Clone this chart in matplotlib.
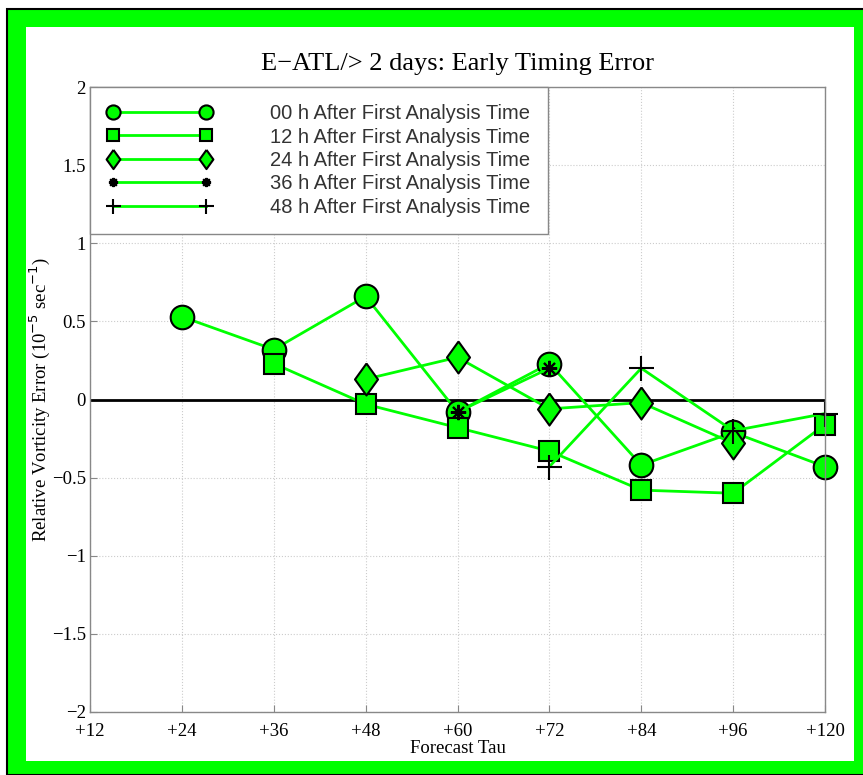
import matplotlib
matplotlib.use("Agg")
from matplotlib import pyplot as plt
from matplotlib.patches import Rectangle

# forecast taus (plotted at equal spacing, like the original)
tau_labels = ["+12", "+24", "+36", "+48", "+60", "+72", "+84", "+96", "+120"]

# series: index into tau_labels, relative vorticity error
x_00 = [1, 2, 3, 4, 5, 6, 7, 8]
y_00 = [0.53, 0.32, 0.66, -0.08, 0.23, -0.42, -0.21, -0.43]
x_12 = [2, 3, 4, 5, 6, 7, 8]
y_12 = [0.23, -0.03, -0.18, -0.33, -0.58, -0.60, -0.16]
x_24 = [3, 4, 5, 6, 7]
y_24 = [0.13, 0.27, -0.06, -0.02, -0.28]
x_36 = [4, 5]
y_36 = [-0.08, 0.20]
x_48 = [5, 6, 7, 8]
y_48 = [-0.43, 0.20, -0.20, -0.09]

labels = [
    "00 h After First Analysis Time",
    "12 h After First Analysis Time",
    "24 h After First Analysis Time",
    "36 h After First Analysis Time",
    "48 h After First Analysis Time",
]

green = "#00ff00"
serif = ["Liberation Serif", "DejaVu Serif"]
sans = ["Liberation Sans", "DejaVu Sans"]

W, H = 863, 775
fig = plt.figure(figsize=(W / 100, H / 100), dpi=100)

# green frame with thin black outer edge
fig.patches.append(Rectangle((7 / W, 0), 1, 1 - 9 / H, transform=fig.transFigure,
                             facecolor=green, edgecolor="black", linewidth=1.5, zorder=-3))
fig.patches.append(Rectangle((26 / W, 1 - 761 / H), (854 - 26) / W, (761 - 27) / H,
                             transform=fig.transFigure, facecolor="white",
                             edgecolor="none", zorder=-2))

ax = fig.add_axes([90 / W, 1 - 712 / H, (825 - 90) / W, (712 - 87) / H])

diamond = [(0, 1), (0.72, 0), (0, -1), (-0.72, 0), (0, 1)]
lw = 2
kw = dict(color=green, lw=lw, mec="black", mew=1.5, clip_on=False)
ax.plot(x_00, y_00, marker="o", ms=17, mfc=green, label=labels[0], **kw)
ax.plot(x_12, y_12, marker="s", ms=14.5, mfc=green, label=labels[1], **kw)
ax.plot(x_24, y_24, marker=diamond, ms=23, mfc=green, label=labels[2], **kw)
ax.plot(x_36, y_36, marker=(8, 2, 0), ms=11, label=labels[3], **kw)
ax.plot(x_48, y_48, marker="+", ms=18, label=labels[4], **kw)

ax.plot([0, 8], [0, 0], color="black", lw=2, zorder=1.5)

ax.set_xlim(0, 8)
ax.set_ylim(-2, 2)
ax.set_xticks(range(len(tau_labels)))
ax.set_xticklabels(tau_labels, family=serif, fontsize=13.5)
yt = [-2, -1.5, -1, -0.5, 0, 0.5, 1, 1.5, 2]
ax.set_yticks(yt)
ax.set_yticklabels([("%g" % v).replace("-", "\u2212") for v in yt],
                   family=serif, fontsize=13.5)
ax.tick_params(direction="in", length=5, color="#888888")
ax.tick_params(axis="x", pad=8)
ax.tick_params(axis="y", pad=3)
ax.grid(True, linestyle=":", color="#cccccc", linewidth=0.8)
ax.set_axisbelow(True)
for s in ax.spines.values():
    s.set_color("#888888")
    s.set_linewidth(1)

ax.set_title("E\u2212ATL/> 2 days: Early Timing Error", family=serif,
             fontsize=19, pad=12)
ax.set_xlabel("Forecast Tau", family=serif, fontsize=13.5, labelpad=0)
ax.set_ylabel("Relative Vorticity Error (10$^{-5}$ sec$^{-1}$)", family=serif,
              fontsize=13.5, labelpad=0)

leg = ax.legend(loc="upper left", bbox_to_anchor=(0, 1), borderaxespad=0,
                numpoints=2, markerscale=0.6, handlelength=5.2,
                handletextpad=2.9, labelspacing=0.22, borderpad=0.85,
                fancybox=False, framealpha=1, edgecolor="#888888",
                prop={"family": sans, "size": 14.5})
leg.get_frame().set_linewidth(1)
for t in leg.get_texts():
    t.set_color("#333333")

fig.savefig("out.png", dpi=100)
